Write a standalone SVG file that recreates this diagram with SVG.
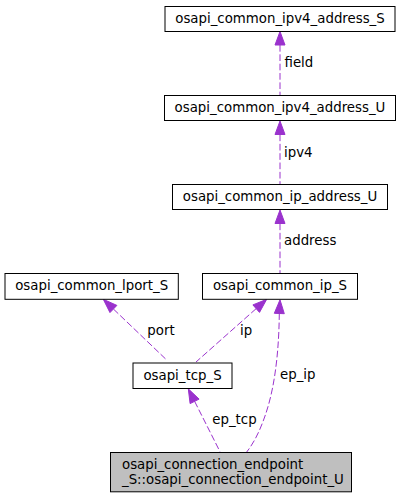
<svg xmlns="http://www.w3.org/2000/svg" width="401" height="499" viewBox="0 0 401 499">
<style>
.node rect{fill:#ffffff;stroke:#000000;stroke-width:1}
.node.root rect{fill:#bfbfbf}
text{font-family:"DejaVu Sans","Liberation Sans",sans-serif;font-size:13.33px;fill:#000000}
.c{text-anchor:middle}
.edge path{fill:none;stroke:#9a32cd;stroke-width:1;stroke-dasharray:6.67,2.67}
.edge polygon{fill:#9a32cd;stroke:#9a32cd;stroke-width:1}
</style>
<rect width="401" height="499" fill="#ffffff"/>
<g id="connectors">
<g class="edge" id="e_field">
<path d="M280,45 L280,95.5"/>
<polygon points="280,31.5 275,45 285,45"/>
<text x="284.5" y="66.7">field</text>
</g>
<g class="edge" id="e_ipv4">
<path d="M280,134.5 L280,184.5"/>
<polygon points="280,121 275,134.5 285,134.5"/>
<text x="284" y="156.7">ipv4</text>
</g>
<g class="edge" id="e_address">
<path d="M280,223.5 L280,273.5"/>
<polygon points="280,210 275,223.5 285,223.5"/>
<text x="284" y="245">address</text>
</g>
<g class="edge" id="e_port">
<path d="M113.4,309 L166.7,360"/>
<polygon points="103.3,299.3 109.96,312.6 116.9,305.4"/>
<text x="147.3" y="335">port</text>
</g>
<g class="edge" id="e_ip">
<path d="M256.2,308.6 L196,362"/>
<polygon points="266.7,299.3 259.5,312.4 252.9,304.9"/>
<text x="240" y="335">ip</text>
</g>
<g class="edge" id="e_ep_ip">
<path d="M279.3,313.5 C279,345 276,385 265,416 C261,427.3 256,440 246.7,452"/>
<polygon points="280,299.8 274.3,313.3 284.3,313.7"/>
<text x="280" y="379.4">ep_ip</text>
</g>
<g class="edge" id="e_ep_tcp">
<path d="M194.6,401.3 L220,451.7"/>
<polygon points="188.3,388.8 190.1,403.6 199.1,399.1"/>
<text x="212.3" y="424">ep_tcp</text>
</g>
</g>
<g class="node" id="n_ipv4_address_S">
<rect x="165" y="6.5" width="230" height="25"/>
<text class="c" x="280" y="23">osapi_common_ipv4_address_S</text>
</g>
<g class="node" id="n_ipv4_address_U">
<rect x="164.5" y="95.5" width="231" height="25"/>
<text class="c" x="280" y="112">osapi_common_ipv4_address_U</text>
</g>
<g class="node" id="n_ip_address_U">
<rect x="172.5" y="184.5" width="215" height="25"/>
<text class="c" x="280" y="201">osapi_common_ip_address_U</text>
</g>
<g class="node" id="n_lport_S">
<rect x="5" y="273.5" width="173.3" height="25.8"/>
<text class="c" x="91.7" y="290.3">osapi_common_lport_S</text>
</g>
<g class="node" id="n_ip_S">
<rect x="202.5" y="273.5" width="155" height="25.8"/>
<text class="c" x="280" y="290.3">osapi_common_ip_S</text>
</g>
<g class="node" id="n_tcp_S">
<rect x="133" y="363" width="99" height="25.5"/>
<text class="c" x="182.5" y="379.7">osapi_tcp_S</text>
</g>
<g class="node root" id="n_endpoint_U">
<rect x="110.5" y="452.5" width="241" height="39.3"/>
<text x="122" y="469.2">osapi_connection_endpoint</text>
<text x="122" y="483.8">_S::osapi_connection_endpoint_U</text>
</g>
</svg>
